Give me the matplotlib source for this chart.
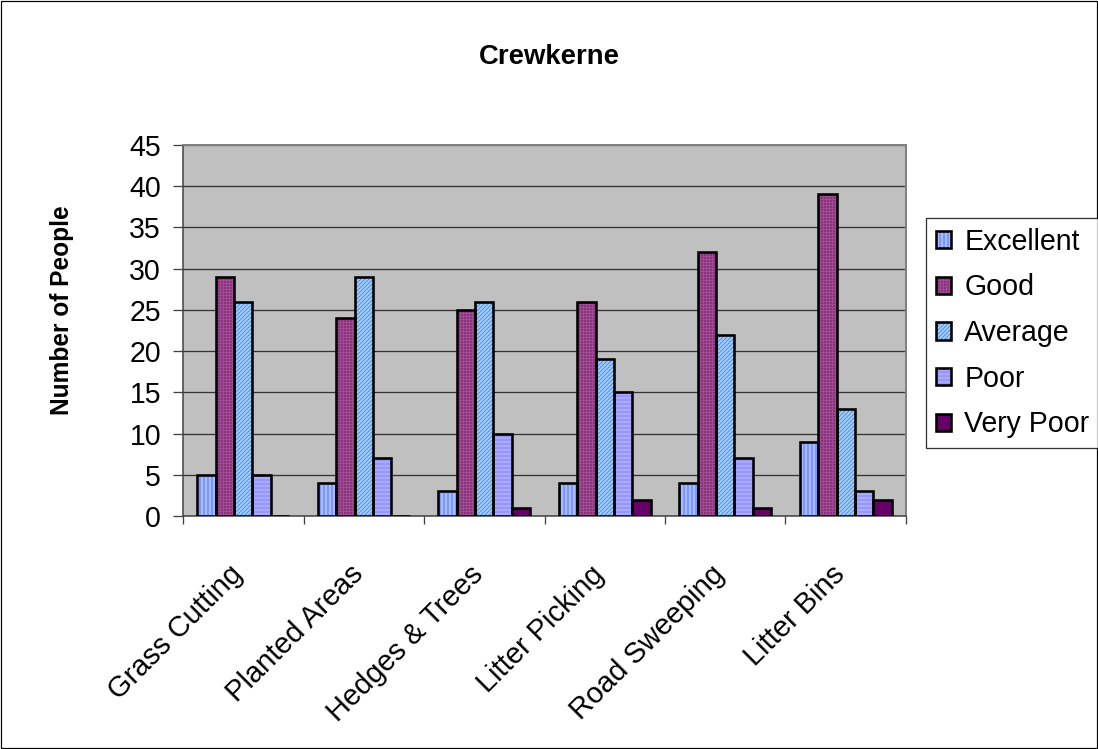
import matplotlib
matplotlib.use("Agg")
import matplotlib.pyplot as plt
import matplotlib.transforms as mtransforms
from matplotlib.patches import Rectangle
import numpy as np

plt.rcParams['font.family'] = ['Liberation Sans', 'DejaVu Sans']
plt.rcParams['hatch.linewidth'] = 1.0

categories = ['Grass Cutting', 'Planted Areas', 'Hedges & Trees',
              'Litter Picking', 'Road Sweeping', 'Litter Bins']
series_names = ['Excellent', 'Good', 'Average', 'Poor', 'Very Poor']
excellent = [5, 4, 3, 4, 4, 9]
good = [29, 24, 25, 26, 32, 39]
average = [26, 29, 26, 19, 22, 13]
poor = [5, 7, 10, 15, 7, 3]
very_poor = [0, 0, 1, 2, 1, 2]
y_ticks = [0, 5, 10, 15, 20, 25, 30, 35, 40, 45]

# face colour, hatch pattern, hatch colour for each rating
styles = [
    ('#7C98FF', '|||', '#D4DEFF'),
    ('#8A3278', '++++', '#9E4C96'),
    ('#A6CEF8', '//////', '#4890EA'),
    ('#9696FF', '---', '#BEBEFF'),
    ('#660066', '', '#660066'),
]

W, H, DPI = 1098, 749, 72
fig = plt.figure(figsize=(W / DPI, H / DPI), dpi=DPI)
ax = fig.add_axes([183 / W, 1 - 516 / H, (906 - 183) / W, (516 - 145) / H])
ax.set_facecolor('#C0C0C0')

x = np.arange(len(categories))
width = 0.1535
data = [excellent, good, average, poor, very_poor]
handles = []
for i, (vals, (fc, hatch, hc)) in enumerate(zip(data, styles)):
    pos = x + (i - 2) * width
    fill = ax.bar(pos, vals, width, color=fc, hatch=hatch, edgecolor=hc,
                  linewidth=0, zorder=3)
    outline = ax.bar(pos, vals, width, fill=False, edgecolor='black',
                     linewidth=2.6, zorder=4)
    handles.append((fill, outline))

ax.set_xlim(-0.5, len(categories) - 0.5)
ax.set_ylim(0, 45)
ax.set_yticks(y_ticks)
ax.yaxis.grid(True, color='#333333', linewidth=1.3, zorder=1)
ax.set_axisbelow(True)

ax.tick_params(axis='y', which='major', direction='out', length=10,
               width=1.3, color='#404040', labelsize=28.5, pad=12)

# category boundary ticks, labels at category centres
ax.set_xticks(np.arange(len(categories) + 1) - 0.5)
ax.set_xticklabels([])
ax.set_xticks(x, minor=True)
ax.set_xticklabels(categories, minor=True, rotation=45, ha='right',
                   va='center', rotation_mode='anchor')
ax.tick_params(axis='x', which='major', direction='out', length=8,
               width=1.3, color='#404040')
ax.tick_params(axis='x', which='minor', length=0, labelsize=29, pad=54)
shift = mtransforms.ScaledTranslation(-5 / DPI, 0, fig.dpi_scale_trans)
for lab in ax.get_xticklabels(minor=True):
    lab.set_transform(lab.get_transform() + shift)

for side in ['left', 'bottom']:
    ax.spines[side].set_color('#404040')
    ax.spines[side].set_linewidth(1.5)
for side in ['top', 'right']:
    ax.spines[side].set_color('#808080')
    ax.spines[side].set_linewidth(2)

fig.text(549 / W, 1 - 57 / H, 'Crewkerne', ha='center', va='center',
         fontsize=27.5, fontweight='bold')
fig.text(62 / W, 1 - 310 / H, 'Number of People', ha='center', va='center',
         rotation=90, fontsize=24.5, fontweight='bold')

leg = fig.legend(handles, series_names, loc='upper left',
                 bbox_to_anchor=(926 / W, 1 - 218 / H),
                 bbox_transform=fig.transFigure, borderaxespad=0,
                 fontsize=28.5, frameon=True, fancybox=False,
                 handlelength=0.55, handleheight=0.55, handletextpad=0.45,
                 labelspacing=0.62, borderpad=0.34)
leg.get_frame().set_edgecolor('black')
leg.get_frame().set_linewidth(1.3)

fig.patches.append(Rectangle((0.0005, 0.0007), 0.999, 0.9986,
                             transform=fig.transFigure, fill=False,
                             edgecolor='black', linewidth=1.2))

fig.savefig('out.png', dpi=DPI, facecolor='white')
